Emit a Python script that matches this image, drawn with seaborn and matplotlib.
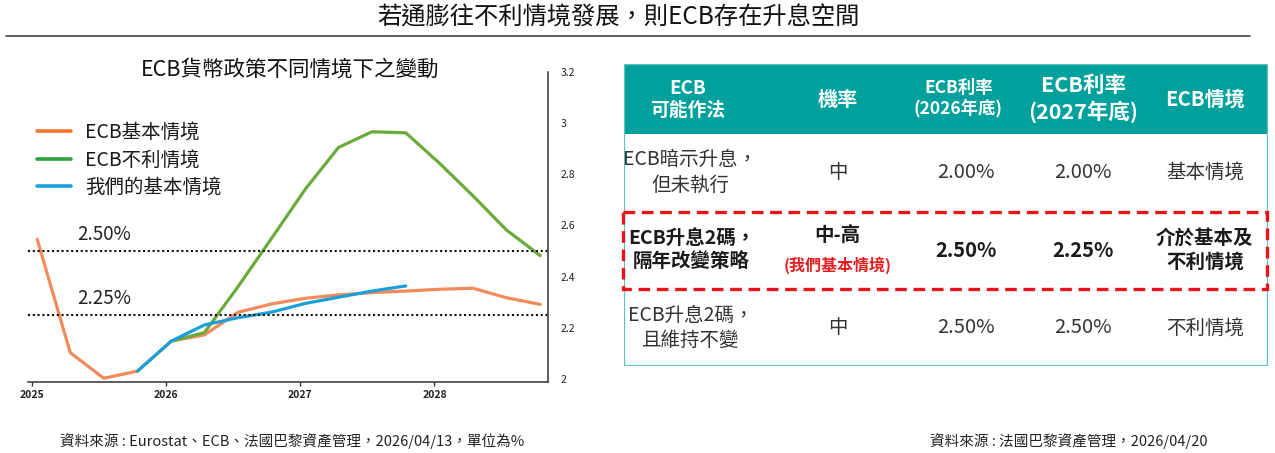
import matplotlib
matplotlib.use("Agg")
import matplotlib.pyplot as plt
from matplotlib.lines import Line2D
from matplotlib.patches import Rectangle
import pandas as pd
import seaborn as sns

# quarterly path of the ECB deposit rate (%)
dates = ["2025-01-15", "2025-04-15", "2025-07-15", "2025-10-15",
         "2026-01-15", "2026-04-15", "2026-07-15", "2026-10-15",
         "2027-01-15", "2027-04-15", "2027-07-15", "2027-10-15",
         "2028-01-15", "2028-04-15", "2028-07-15", "2028-10-15"]
ecb_base = [2.546, 2.104, 2.004, 2.032, 2.149, 2.173, 2.261, 2.294,
            2.316, 2.329, 2.338, 2.344, 2.351, 2.355, 2.318, 2.292]
ecb_adverse = [None, None, None, None, 2.149, 2.182, 2.360, 2.550,
               2.742, 2.904, 2.965, 2.961, 2.842, 2.715, 2.582, 2.482]
our_base = [None, None, None, 2.032, 2.149, 2.212, 2.240, 2.262,
            2.296, 2.320, 2.344, 2.364, None, None, None, None]
series_names = ["ECB基本情境", "ECB不利情境", "我們的基本情境"]
line_colors = ["#F28A5A", "#6AAB3C", "#1B9FD9"]
legend_colors = ["#F2762E", "#2FA33F", "#1AA3DF"]
ref_levels = [2.50, 2.25]
ref_labels = ["2.50%", "2.25%"]
x_years = ["2025", "2026", "2027", "2028"]
y_ticks = [2.0, 2.2, 2.4, 2.6, 2.8, 3.0, 3.2]
y_tick_labels = ["2", "2.2", "2.4", "2.6", "2.8", "3", "3.2"]

# table content
col_headers = ["ECB\n可能作法", "機率", "ECB利率\n(2026年底)", "ECB利率\n(2027年底)", "ECB情境"]
row_actions = ["ECB暗示升息，\n但未執行", "ECB升息2碼，\n隔年改變策略", "ECB升息2碼，\n且維持不變"]
row_prob = ["中", "中-高", "中"]
row_rate_2026 = ["2.00%", "2.50%", "2.50%"]
row_rate_2027 = ["2.00%", "2.25%", "2.50%"]
row_scenario = ["基本情境", "介於基本及\n不利情境", "不利情境"]
highlight_note = "(我們基本情境)"

sns.set_theme(style="white")
FONT = ["Noto Sans CJK TC", "DejaVu Sans"]
plt.rcParams["font.family"] = FONT
plt.rcParams["axes.unicode_minus"] = False

W, H = 1275, 453
fig = plt.figure(figsize=(W / 100, H / 100), dpi=100)

def fx(px):
    return px / W

def fy(py):
    return 1 - py / H

# page title and rule
fig.text(fx(618), fy(17), "若通膨往不利情境發展，則ECB存在升息空間", ha="center", va="center",
         fontsize=17.5, color="#111111")
fig.add_artist(Line2D([fx(6), fx(1250)], [fy(36), fy(36)], color="#333333", lw=1.1))

# ---- line chart ----
rows = []
for name, vals in zip(series_names, [ecb_base, ecb_adverse, our_base]):
    for d, v in zip(dates, vals):
        if v is not None:
            rows.append({"date": pd.Timestamp(d), "value": v, "series": name})
df = pd.DataFrame(rows)

ax = fig.add_axes([fx(28), fy(382), fx(548) - fx(28), fy(71.5) - fy(382)])
sns.lineplot(data=df, x="date", y="value", hue="series", hue_order=series_names,
             palette=line_colors, lw=2.3, legend=False, ax=ax)

ax.set_xlim(pd.Timestamp("2024-12-21"), pd.Timestamp("2028-11-05"))
ax.set_ylim(1.9895, 3.2)
for lvl in ref_levels:
    ax.axhline(lvl, color="#111111", lw=1.5, ls=(0, (1, 1.3)))
for lvl, lab in zip(ref_levels, ref_labels):
    ax.text(0.094, lvl + 0.025, lab, transform=ax.get_yaxis_transform(),
            fontsize=13.5, color="#222222", va="bottom", ha="left")

ax.set_xticks([pd.Timestamp(y + "-01-01") for y in x_years])
ax.set_xticklabels(x_years, fontsize=7.5, weight="bold", color="#222222")
ax.yaxis.tick_right()
ax.set_yticks(y_ticks)
ax.set_yticklabels(y_tick_labels, fontsize=7.5, color="#222222")
ax.tick_params(axis="x", length=3, width=1, color="#333333", pad=3, bottom=True)
ax.tick_params(axis="y", length=0, pad=9)
ax.set_xlabel("")
ax.set_ylabel("")
for side in ["left", "top"]:
    ax.spines[side].set_visible(False)
for side in ["right", "bottom"]:
    ax.spines[side].set_color("#333333")
    ax.spines[side].set_linewidth(1.1)
ax.grid(False)

fig.text(fx(290), fy(70), "ECB貨幣政策不同情境下之變動", ha="center", va="center",
         fontsize=15.5, color="#111111")

handles = [Line2D([0], [0], color=c, lw=2.6) for c in legend_colors]
fig.legend(handles, series_names, loc="upper left", bbox_to_anchor=(fx(29), fy(114)),
           frameon=False, fontsize=14, handlelength=1.75, handletextpad=0.75,
           labelspacing=0.34, borderaxespad=0, labelcolor="#1a1a1a")

# ---- table ----
tax = fig.add_axes([fx(624), fy(366), fx(1268) - fx(624), fy(64) - fy(366)])
tax.set_xlim(0, 1)
tax.set_ylim(1, 0)
tax.axis("off")

col_x = [0.099, 0.332, 0.519, 0.713, 0.902]
val_x = [0.531, 0.713]
header_bottom = 0.232
row_y = [0.358, 0.616, 0.874]

tax.add_patch(Rectangle((0, 0), 1, header_bottom, color="#00A19C", lw=0))
tax.add_patch(Rectangle((0, 0), 1, 1, fill=False, ec="#5DC3BF", lw=1.6))

header_sizes = [13.5, 14.5, 12.5, 15.5, 14.5]
for x, txt, fs in zip(col_x, col_headers, header_sizes):
    tax.text(x, header_bottom / 2, txt, ha="center", va="center", color="white",
             fontsize=fs, weight="bold", linespacing=1.2)

for i, y in enumerate(row_y):
    bold = i == 1
    w = "bold" if bold else "normal"
    c = "#1a1a1a" if bold else "#333333"
    tax.text(col_x[0] + (0.006 if bold else 0.004), y, row_actions[i], ha="center", va="center",
             fontsize=14, weight=w, color=c, linespacing=1.3)
    if bold:
        tax.text(col_x[1], y - 0.045, row_prob[i], ha="center", va="center",
                 fontsize=14, weight=w, color=c)
        tax.text(col_x[1], y + 0.05, highlight_note, ha="center", va="center",
                 fontsize=11.5, weight="bold", color="#E41F1F")
    else:
        tax.text(col_x[1], y, row_prob[i], ha="center", va="center",
                 fontsize=14, weight=w, color=c)
    tax.text(val_x[0], y, row_rate_2026[i], ha="center", va="center",
             fontsize=14.5, weight=w, color=c)
    tax.text(val_x[1], y, row_rate_2027[i], ha="center", va="center",
             fontsize=14.5, weight=w, color=c)
    tax.text(col_x[4], y, row_scenario[i], ha="center", va="center",
             fontsize=14, weight=w, color=c, linespacing=1.3)

tax.add_patch(Rectangle((-0.002, 0.49), 1.0, 0.255, fill=False, ec="#E8141C",
                        lw=2.4, ls=(0, (3.5, 2)), clip_on=False))

# sources
fig.text(fx(60), fy(441), "資料來源 : Eurostat、ECB、法國巴黎資產管理，2026/04/13，單位為%",
         ha="left", va="center", fontsize=10.5, color="#222222")
fig.text(fx(930), fy(441), "資料來源 : 法國巴黎資產管理，2026/04/20",
         ha="left", va="center", fontsize=10.5, color="#222222")

fig.savefig("out.png", dpi=100)
